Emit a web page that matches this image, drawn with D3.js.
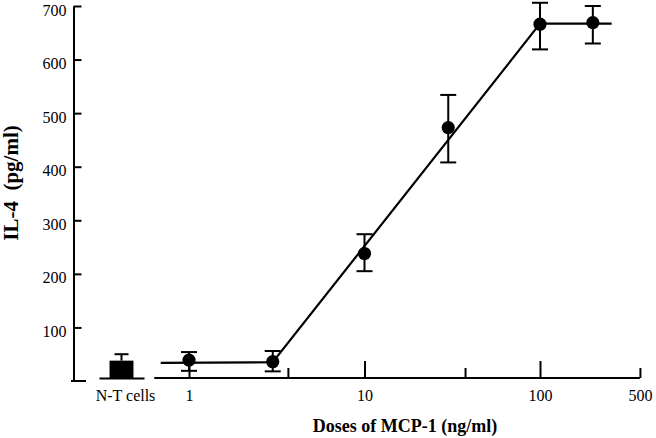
<!DOCTYPE html>
<html>
<head>
<meta charset="utf-8">
<script src="https://cdn.jsdelivr.net/npm/d3@7"></script>
<style>
  body { margin: 0; background: #fff; }
  text { font-family: "Liberation Serif", "Times New Roman", serif; fill: #000; }
</style>
</head>
<body>
<script>
// control bar (untreated cells)
var ctrlLabel = ["N-T cells"];
var ctrlMean = [38];
var ctrlHigh = [50];

// MCP-1 dose response, IL-4 in pg/ml
var doses = [1, 3, 10, 30, 100, 200];
var il4Mean = [39, 36, 238, 473, 666, 669];
var il4Low = [19, 18, 205, 408, 619, 630];
var il4High = [54, 56, 274, 534, 706, 700];

// straight fitted line drawn through the points
var fitDose = [0.69, 3, 100, 256];
var fitIl4 = [34, 35, 667, 667];

// x ticks sit where they were drawn on the log axis (unlabelled ones are minor)
var xTickValues = [1, 3.66, 10, 37.4, 100, 371];
var xTickLabels = ["1", "", "10", "", "100", "500"];
var xMajor = [1, 10, 100];
var yTickValues = [100, 200, 300, 400, 500, 600, 700];

var width = 656,
    height = 438;

var svg = d3.select("body").append("svg")
    .attr("width", width)
    .attr("height", height);

var y = d3.scaleLinear().domain([0, 700]).range([381, 6]);
var x = d3.scaleLog().domain([1, 100]).range([189, 540]);
var xCtrl = d3.scaleBand().domain(ctrlLabel).range([99, 144]).paddingOuter(0.44);

var axisY = y(0) - 3;   // the x baseline sits a little above zero

// y axis, ticks pointing inward
var yAxis = svg.append("g")
    .attr("transform", "translate(73.5,0)")
    .call(d3.axisLeft(y).tickValues(yTickValues).tickSizeInner(-8).tickSizeOuter(0).tickPadding(7));
yAxis.selectAll("path, line").attr("stroke", "#000").attr("stroke-width", 2);
yAxis.selectAll("text").attr("y", 4).style("font-size", "16px");
yAxis.append("line")
    .attr("x1", -2.5).attr("x2", 12.5)
    .attr("y1", y(0)).attr("y2", y(0))
    .attr("stroke", "#000").attr("stroke-width", 2);

// x axis: separate segment under the control bar
var ctrlAxis = svg.append("g")
    .attr("transform", "translate(0," + axisY + ")")
    .call(d3.axisBottom(xCtrl).tickSize(0).tickPadding(12));
ctrlAxis.select("path").attr("stroke", "#000").attr("stroke-width", 2);
ctrlAxis.selectAll("text").attr("dx", 4).style("font-size", "16px");

var xAxis = svg.append("g")
    .attr("transform", "translate(0," + axisY + ")")
    .call(d3.axisBottom(x)
        .tickValues(xTickValues)
        .tickFormat(function (d, i) { return xTickLabels[i]; })
        .tickSize(-10)
        .tickPadding(12));
xAxis.select("path").remove();
xAxis.selectAll("line").attr("stroke", "#000").attr("stroke-width", 2);
xAxis.selectAll(".tick").filter(function (d) { return xMajor.indexOf(d) >= 0; })
    .select("line").attr("y2", -17);
xAxis.selectAll("text").style("font-size", "16px");
xAxis.append("line")
    .attr("x1", x(0.634)).attr("x2", x(xTickValues[xTickValues.length - 1]))
    .attr("stroke", "#000").attr("stroke-width", 2);

// control bar with its error bar
ctrlLabel.forEach(function (c, i) {
    var cx = xCtrl(c) + xCtrl.bandwidth() / 2;
    svg.append("line")
        .attr("x1", cx).attr("x2", cx)
        .attr("y1", y(ctrlMean[i])).attr("y2", y(ctrlHigh[i]))
        .attr("stroke", "#000").attr("stroke-width", 2);
    svg.append("line")
        .attr("x1", cx - 7).attr("x2", cx + 7)
        .attr("y1", y(ctrlHigh[i])).attr("y2", y(ctrlHigh[i]))
        .attr("stroke", "#000").attr("stroke-width", 2);
    svg.append("rect")
        .attr("x", xCtrl(c))
        .attr("y", y(ctrlMean[i]))
        .attr("width", xCtrl.bandwidth())
        .attr("height", axisY - y(ctrlMean[i]))
        .attr("fill", "#000");
});

// fitted line
var fit = fitDose.map(function (d, i) { return [d, fitIl4[i]]; });
svg.append("path")
    .datum(fit)
    .attr("fill", "none")
    .attr("stroke", "#000")
    .attr("stroke-width", 2.2)
    .attr("d", d3.line()
        .x(function (d) { return x(d[0]); })
        .y(function (d) { return y(d[1]); }));

// error bars and points
var pts = doses.map(function (d, i) {
    return { dose: d, mean: il4Mean[i], lo: il4Low[i], hi: il4High[i] };
});

var g = svg.selectAll(".pt")
    .data(pts)
    .enter().append("g")
    .attr("class", "pt");

g.append("line")
    .attr("x1", function (d) { return x(d.dose); })
    .attr("x2", function (d) { return x(d.dose); })
    .attr("y1", function (d) { return y(d.lo); })
    .attr("y2", function (d) { return y(d.hi); })
    .attr("stroke", "#000").attr("stroke-width", 2);

["lo", "hi"].forEach(function (k) {
    g.append("line")
        .attr("x1", function (d) { return x(d.dose) - 8; })
        .attr("x2", function (d) { return x(d.dose) + 8; })
        .attr("y1", function (d) { return y(d[k]); })
        .attr("y2", function (d) { return y(d[k]); })
        .attr("stroke", "#000").attr("stroke-width", 2);
});

g.append("circle")
    .attr("cx", function (d) { return x(d.dose); })
    .attr("cy", function (d) { return y(d.mean); })
    .attr("r", 6.6)
    .attr("fill", "#000");

// axis titles
svg.append("text")
    .attr("x", 405)
    .attr("y", 432)
    .attr("text-anchor", "middle")
    .style("font-size", "18px")
    .style("font-weight", "bold")
    .text("Doses of MCP-1 (ng/ml)");

svg.append("text")
    .attr("transform", "translate(18,183) rotate(-90)")
    .attr("text-anchor", "middle")
    .style("font-size", "21px")
    .style("font-weight", "bold")
    .style("white-space", "pre")
    .text("IL-4  (pg/ml)");
</script>
</body>
</html>
